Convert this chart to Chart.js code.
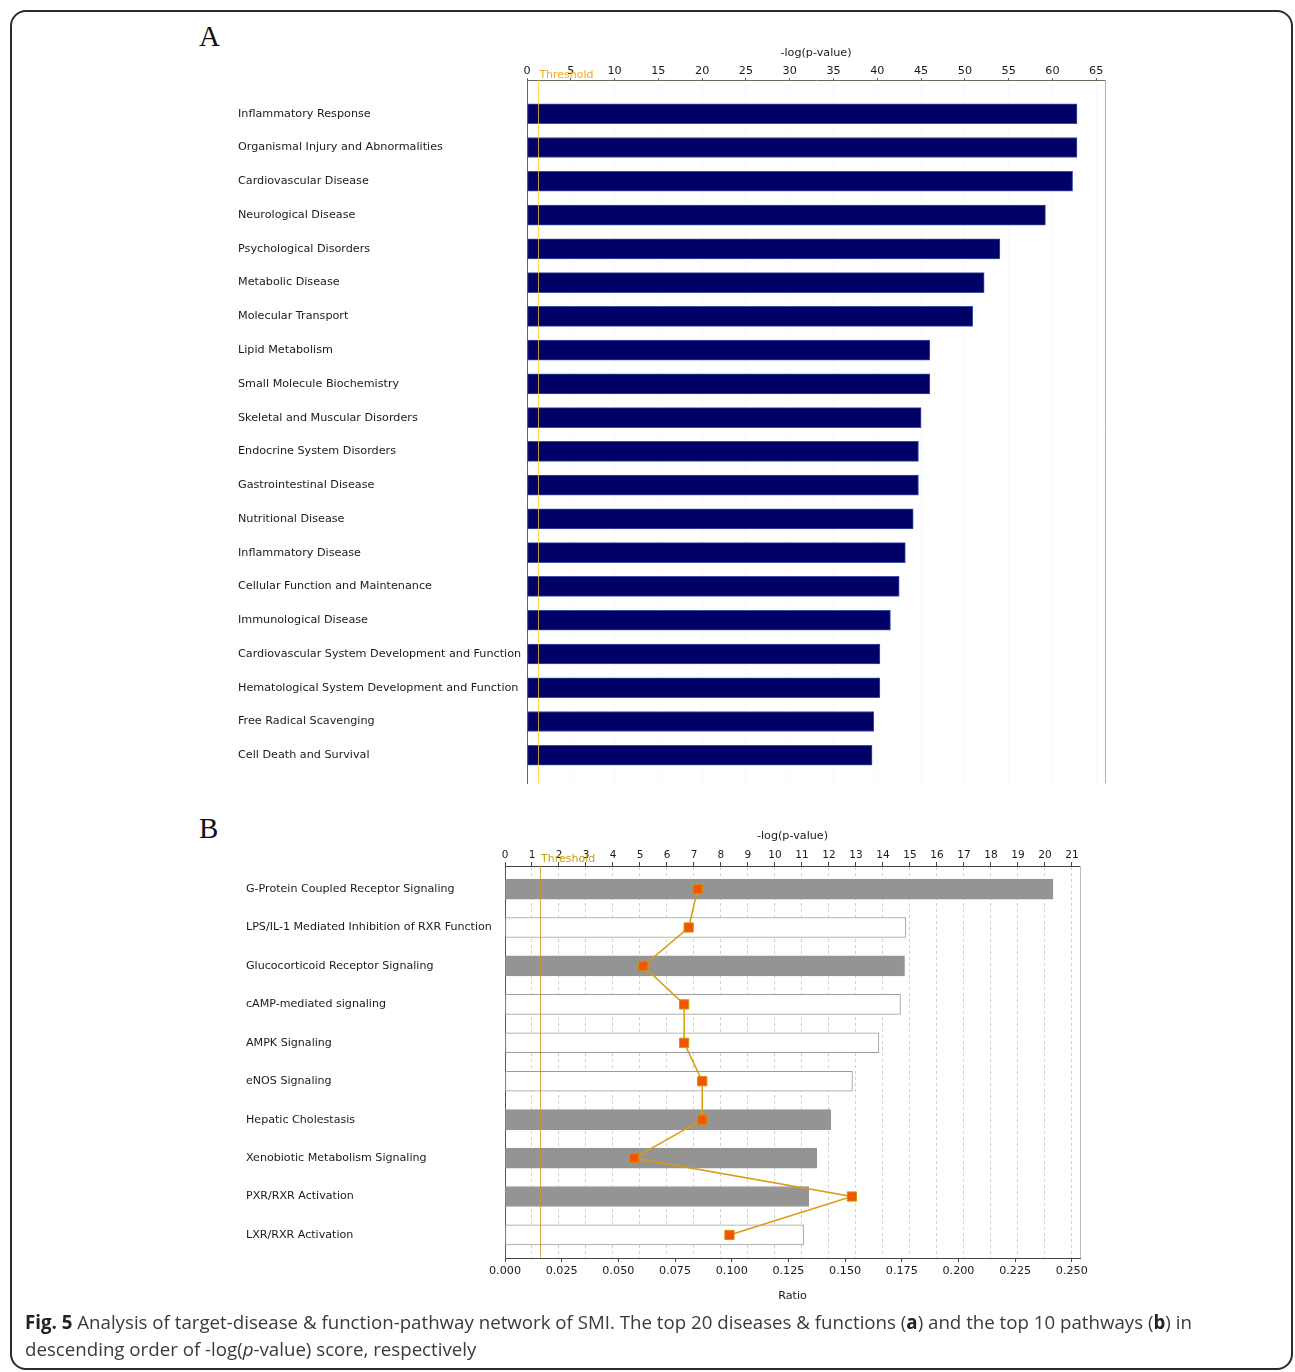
<!DOCTYPE html>
<html>
<head>
<meta charset="utf-8">
<script src="https://cdn.jsdelivr.net/npm/chart.js@4.4.1/dist/chart.umd.min.js"></script>
<style>
    body { margin: 0; background: #fff; width: 1295px; height: 1372px; position: relative; overflow: hidden; }
    #frame { position: absolute; left: 10px; top: 10px; width: 1283px; height: 1360px; border: 2px solid #2b2b2b; border-radius: 16px; box-sizing: border-box; }
    .panel { position: absolute; font-family: 'Liberation Serif', serif; font-size: 29px; color: #111; }
    .wrap { position: absolute; left: 180px; width: 950px; }
    #caption { position: absolute; left: 25px; top: 1308px; width: 1265px; font-family: 'Open Sans', sans-serif; font-size: 18.7px; line-height: 27px; color: #3a3a3a; }
    #caption b { color: #222; }
</style>
</head>
<body>
<div id="frame"></div>
<div class="panel" style="left:199px; top:20px;">A</div>
<div class="panel" style="left:199px; top:812px;">B</div>
<div class="wrap" style="top:30px; height:763px;"><canvas id="chartA" width="950" height="763"></canvas></div>
<div class="wrap" style="top:815px; height:500px;"><canvas id="chartB" width="950" height="500"></canvas></div>
<div id="caption"><b>Fig. 5</b> Analysis of target-disease &amp; function-pathway network of SMI. The top 20 diseases &amp; functions (<b>a</b>) and the top 10 pathways (<b>b</b>) in<br>descending order of -log(<i>p</i>-value) score, respectively</div>

<script>
// Top 20 diseases & functions, -log(p-value)
const diseaseLabels = [
    'Inflammatory Response', 'Organismal Injury and Abnormalities', 'Cardiovascular Disease',
    'Neurological Disease', 'Psychological Disorders', 'Metabolic Disease', 'Molecular Transport',
    'Lipid Metabolism', 'Small Molecule Biochemistry', 'Skeletal and Muscular Disorders',
    'Endocrine System Disorders', 'Gastrointestinal Disease', 'Nutritional Disease',
    'Inflammatory Disease', 'Cellular Function and Maintenance', 'Immunological Disease',
    'Cardiovascular System Development and Function', 'Hematological System Development and Function',
    'Free Radical Scavenging', 'Cell Death and Survival'
];
const diseaseScores = [62.8, 62.8, 62.3, 59.2, 54.0, 52.2, 50.9, 46.0, 46.0, 45.0,
    44.7, 44.7, 44.1, 43.2, 42.5, 41.5, 40.3, 40.3, 39.6, 39.4];

// Top 10 canonical pathways: -log(p-value) bars and ratio line
const pathwayLabels = [
    'G-Protein Coupled Receptor Signaling', 'LPS/IL-1 Mediated Inhibition of RXR Function',
    'Glucocorticoid Receptor Signaling', 'cAMP-mediated signaling', 'AMPK Signaling',
    'eNOS Signaling', 'Hepatic Cholestasis', 'Xenobiotic Metabolism Signaling',
    'PXR/RXR Activation', 'LXR/RXR Activation'
];
const pathwayScores = [20.3, 14.85, 14.8, 14.65, 13.85, 12.87, 12.07, 11.55, 11.25, 11.06];
const pathwayRatios = [0.085, 0.081, 0.061, 0.079, 0.079, 0.087, 0.087, 0.057, 0.153, 0.099];
const pathwayShaded = [true, false, true, false, false, false, true, true, true, false];

const thresholdScore = 1.3;
const scoreStepA = 5;
const scoreStepB = 1;
const ratioStep = 0.025;

const labelFont = { family: "'DejaVu Sans', sans-serif", size: 11.2 };
const smallFont = { family: "'DejaVu Sans', sans-serif", size: 11.1 };
const tickFontB = { family: "'DejaVu Sans', sans-serif", size: 10.5 };

// Right frame edge and threshold marker, drawn from the x scale
function thresholdPlugin(lineColor, textColor, frameColor, textShift) {
    return {
        id: 'threshold',
        afterDatasetsDraw(chart) {
            const { ctx, chartArea } = chart;
            const x = chart.scales.x.getPixelForValue(thresholdScore);
            ctx.save();
            ctx.strokeStyle = frameColor;
            ctx.lineWidth = 1;
            ctx.beginPath();
            ctx.moveTo(chartArea.right + 0.5, chartArea.top);
            ctx.lineTo(chartArea.right + 0.5, chartArea.bottom);
            ctx.stroke();
            ctx.strokeStyle = lineColor;
            ctx.beginPath();
            ctx.moveTo(Math.round(x) + 0.5, chartArea.top);
            ctx.lineTo(Math.round(x) + 0.5, chartArea.bottom);
            ctx.stroke();
            ctx.fillStyle = textColor;
            ctx.font = "11px 'DejaVu Sans', sans-serif";
            ctx.textBaseline = 'bottom';
            ctx.fillText('Threshold', x + 1, chartArea.top + textShift);
            ctx.restore();
        }
    };
}

function indexTick(labels) {
    return v => (Number.isInteger(v) && labels[v] !== undefined) ? labels[v] : '';
}

new Chart(document.getElementById('chartA'), {
    type: 'bar',
    data: {
        datasets: [{
            data: diseaseScores.map((v, i) => ({ x: v, y: i })),
            backgroundColor: '#000066',
            borderColor: '#3b4fa6',
            borderWidth: 1,
            borderSkipped: false,
            barThickness: 20
        }]
    },
    options: {
        indexAxis: 'y',
        responsive: false,
        animation: false,
        layout: { padding: { left: 58, right: 25, top: 13, bottom: 4 } },
        plugins: { legend: { display: false }, tooltip: { enabled: false } },
        scales: {
            x: {
                position: 'top',
                min: 0,
                max: 66,
                ticks: { stepSize: scoreStepA, includeBounds: false, padding: 0, color: '#1a1a1a', font: labelFont },
                grid: { color: '#ecebd6', tickColor: '#6e665a', tickLength: 2 },
                border: { color: '#6e665a', dash: [1, 3] },
                title: { display: true, text: '-log(p-value)', color: '#1a1a1a', font: labelFont, padding: { top: 3, bottom: 0 } },
                afterFit: s => { s.height = 37; }
            },
            y: {
                type: 'linear',
                offset: false,
                reverse: true,
                min: -1,
                max: 19.83,
                ticks: { stepSize: 1, includeBounds: false, autoSkip: false, crossAlign: 'far', color: '#1a1a1a', font: labelFont, callback: indexTick(diseaseLabels) },
                grid: { display: false, offset: false },
                border: { color: '#6e665a' },
                afterFit: s => { s.width = 289; }
            }
        }
    },
    plugins: [thresholdPlugin('rgba(255, 205, 40, 0.75)', '#f5a81c', '#b9b2a4', 1)]
});

new Chart(document.getElementById('chartB'), {
    type: 'bar',
    data: {
        datasets: [{
            type: 'line',
            order: 0,
            indexAxis: 'y',
            xAxisID: 'x2',
            yAxisID: 'y',
            data: pathwayRatios.map((v, i) => ({ x: v, y: i })),
            borderColor: '#dc9a10',
            borderWidth: 1.5,
            tension: 0,
            pointStyle: 'rect',
            pointRadius: 6.5,
            pointBackgroundColor: '#f25500',
            pointBorderColor: '#d99000',
            pointBorderWidth: 1
        }, {
            type: 'bar',
            order: 1,
            indexAxis: 'y',
            xAxisID: 'x',
            yAxisID: 'y',
            data: pathwayScores.map((v, i) => ({ x: v, y: i })),
            backgroundColor: pathwayShaded.map(s => s ? '#949494' : '#ffffff'),
            borderColor: pathwayShaded.map(s => s ? '#949494' : '#9c9c9c'),
            borderWidth: 1,
            borderSkipped: false,
            barThickness: 20
        }]
    },
    options: {
        indexAxis: 'y',
        responsive: false,
        animation: false,
        layout: { padding: { left: 66, right: 50, top: 10, bottom: 12 } },
        plugins: { legend: { display: false }, tooltip: { enabled: false } },
        scales: {
            x: {
                position: 'top',
                min: 0,
                max: 21.3,
                ticks: { stepSize: scoreStepB, includeBounds: false, padding: 0, color: '#1a1a1a', font: tickFontB },
                grid: { color: '#cfcfcf', tickColor: '#444', tickLength: 4 },
                border: { color: '#444', dash: [3, 3] },
                title: { display: true, text: '-log(p-value)', color: '#1a1a1a', font: labelFont, padding: { top: 4, bottom: 0 } },
                afterFit: s => { s.height = 41; }
            },
            x2: {
                position: 'bottom',
                min: 0,
                max: 0.2536,
                ticks: { stepSize: ratioStep, includeBounds: false, padding: 2, color: '#1a1a1a', font: labelFont, callback: v => v.toFixed(3) },
                grid: { drawOnChartArea: false, color: '#444', tickLength: 4 },
                border: { color: '#444' },
                title: { display: true, text: 'Ratio', color: '#1a1a1a', font: labelFont, padding: { top: 0, bottom: 0 } },
                afterFit: s => { s.height = 45; }
            },
            y: {
                type: 'linear',
                offset: false,
                reverse: true,
                min: -0.6,
                max: 9.6,
                ticks: { stepSize: 1, includeBounds: false, autoSkip: false, crossAlign: 'far', color: '#1a1a1a', font: smallFont, callback: indexTick(pathwayLabels) },
                grid: { display: false, offset: false },
                border: { color: '#555' },
                afterFit: s => { s.width = 259; }
            }
        }
    },
    plugins: [thresholdPlugin('rgba(205, 150, 30, 0.8)', '#c9a010', '#bdbdbd', -1)]
});
</script>
</body>
</html>
